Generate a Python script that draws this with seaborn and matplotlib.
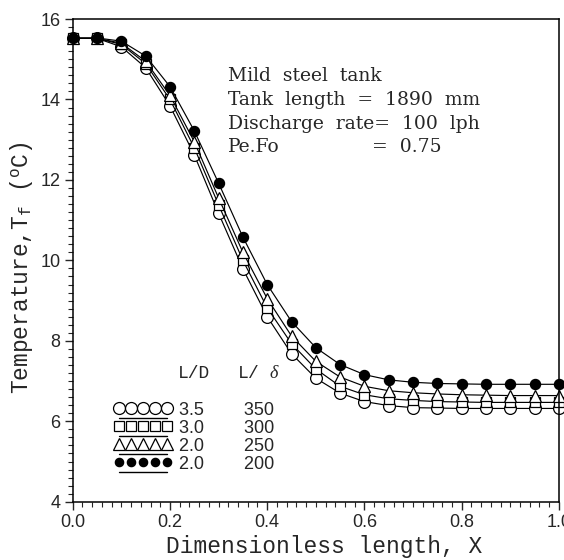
import numpy as np
import pandas as pd
import seaborn as sns
import matplotlib
matplotlib.use("Agg")
import matplotlib.pyplot as plt
from matplotlib.ticker import MultipleLocator, FormatStrFormatter
from matplotlib.legend_handler import HandlerLine2DCompound

# ---------------- data ----------------
x_vals = [0.0, 0.05, 0.10, 0.15, 0.20, 0.25, 0.30, 0.35, 0.40, 0.45, 0.50,
          0.55, 0.60, 0.65, 0.70, 0.75, 0.80, 0.85, 0.90, 0.95, 1.00]

t_ld35 = [15.52, 15.52, 15.31, 14.79, 13.84, 12.62, 11.17, 9.79, 8.60, 7.68, 7.07,
          6.70, 6.49, 6.39, 6.34, 6.33, 6.32, 6.32, 6.32, 6.32, 6.32]
t_ld30 = [15.52, 15.52, 15.37, 14.89, 14.00, 12.80, 11.38, 10.00, 8.82, 7.93, 7.30,
          6.87, 6.66, 6.56, 6.52, 6.49, 6.48, 6.47, 6.47, 6.47, 6.47]
t_ld20a = [15.52, 15.52, 15.40, 14.95, 14.10, 12.95, 11.55, 10.20, 9.05, 8.12, 7.49,
           7.10, 6.87, 6.76, 6.71, 6.68, 6.66, 6.65, 6.64, 6.64, 6.64]
t_ld20b = [15.53, 15.53, 15.45, 15.08, 14.32, 13.22, 11.92, 10.58, 9.40, 8.48, 7.83,
           7.41, 7.16, 7.03, 6.97, 6.94, 6.93, 6.92, 6.92, 6.92, 6.92]

ld_labels = ["3.5", "3.0", "2.0", "2.0"]
ldelta_labels = ["350", "300", "250", "200"]
annot_lines = ["Mild  steel  tank", "Tank  length  =  1890  mm",
               "Discharge  rate=  100  lph", "Pe.Fo"]
annot_pefo_value = "=  0.75"

series = [t_ld35, t_ld30, t_ld20a, t_ld20b]
markers = ["o", "s", "^", "o"]
faces = ["white", "white", "white", "black"]
msizes = [8.5, 7.5, 8.5, 7.3]
leg_msizes = [8.6, 7.6, 8.4, 6.0]

# ---------------- style ----------------
sns.set_style("ticks")
plt.rcParams["font.family"] = ["Liberation Sans", "DejaVu Sans"]
plt.rcParams["mathtext.fontset"] = "custom"
plt.rcParams["mathtext.rm"] = "Liberation Mono"
plt.rcParams["mathtext.it"] = "Liberation Serif:italic"

fig = plt.figure(figsize=(5.64, 5.60), dpi=100)
ax = fig.add_axes([0.129, 0.104, 0.862, 0.862])

lines = []
for vals, mk, fc, ms in zip(series, markers, faces, msizes):
    df = pd.DataFrame({"X": x_vals, "T": vals})
    sns.lineplot(data=df, x="X", y="T", ax=ax, color="black", lw=0.85,
                 marker=mk, markersize=ms, markerfacecolor=fc,
                 markeredgecolor="black", markeredgewidth=0.9, clip_on=False)
    lines.append(ax.lines[-1])

ax.set_xlim(0, 1.0)
ax.set_ylim(4, 16)
ax.xaxis.set_major_locator(MultipleLocator(0.2))
ax.xaxis.set_minor_locator(MultipleLocator(0.02))
ax.yaxis.set_major_locator(MultipleLocator(2))
ax.yaxis.set_minor_locator(MultipleLocator(0.2))
ax.xaxis.set_major_formatter(FormatStrFormatter("%.1f"))
ax.tick_params(which="major", direction="out", length=6, width=1.0,
               labelsize=13, pad=3, top=False, right=False)
ax.tick_params(which="minor", direction="out", length=3.5, width=0.8,
               top=False, right=False)
for sp in ax.spines.values():
    sp.set_linewidth(1.1)
    sp.set_color("black")
    sp.set_visible(True)

ax.set_xlabel("Dimensionless length, X", fontsize=16.5,
              family="Liberation Mono", labelpad=3)
ax.xaxis.label.set_x(0.518)
ax.set_ylabel("Temperature,T$_{\\rm f}$ ($^{\\rm o}$C)", fontsize=16.5,
              family="Liberation Mono", labelpad=4)
ax.yaxis.label.set_y(0.485)

# annotation block
for i, txt in enumerate(annot_lines):
    ax.text(0.32, 0.883 - i * 0.0497, txt, transform=ax.transAxes,
            fontsize=13.5, family="DejaVu Serif", va="center", ha="left")
ax.text(0.615, 0.883 - 3 * 0.0497, annot_pefo_value, transform=ax.transAxes,
        fontsize=13.5, family="DejaVu Serif", va="center", ha="left")


class UnderLine(HandlerLine2DCompound):
    def __init__(self, ms, **kw):
        super().__init__(**kw)
        self.ms = ms

    def create_artists(self, legend, orig_handle, xdescent, ydescent,
                       width, height, fontsize, trans):
        arts = super().create_artists(legend, orig_handle, xdescent, ydescent,
                                      width, height, fontsize, trans)
        legline, legmarker = arts[0], arts[1]
        legline.set_ydata(np.asarray(legline.get_ydata()) - 0.75 * height)
        legline.set_linewidth(1.0)
        legmarker.set_markersize(self.ms)
        return arts


labels = [f"{a}{' ' * 8}{b}" for a, b in zip(ld_labels, ldelta_labels)]
leg = ax.legend(lines, labels, loc="lower left", bbox_to_anchor=(0.085, 0.06),
                frameon=False, numpoints=5, handlelength=3.25, handleheight=0.7,
                handletextpad=0.35, labelspacing=0.06, borderpad=0,
                borderaxespad=0, fontsize=13,
                handler_map={l: UnderLine(ms) for l, ms in zip(lines, leg_msizes)})

ax.text(0.217, 0.265, "L/D", transform=ax.transAxes, fontsize=13,
        family="Liberation Mono", va="center")
ax.text(0.338, 0.265, "L/ $\\delta$", transform=ax.transAxes, fontsize=13,
        family="Liberation Mono", va="center")

fig.savefig("out.png", dpi=100, facecolor="white")
